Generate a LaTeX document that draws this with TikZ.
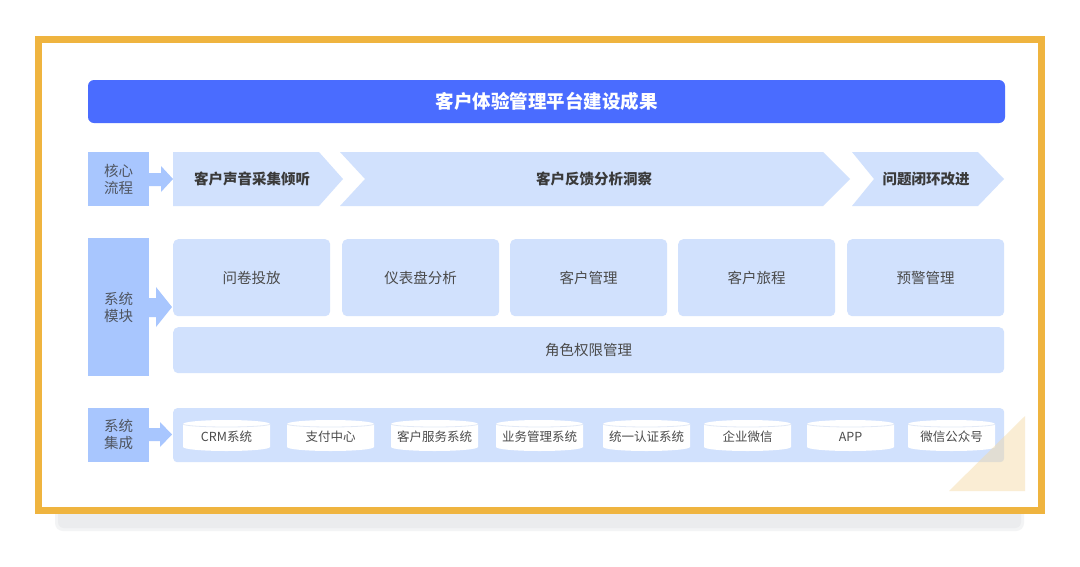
\documentclass[tikz,border=0pt]{standalone}
\usepackage{fontspec}
\setmainfont{Noto Sans CJK SC}
\definecolor{frameor}{HTML}{EFB43F}
\definecolor{titleblue}{HTML}{4A6CFF}
\definecolor{labblue}{HTML}{A8C6FE}
\definecolor{liteblue}{HTML}{D1E1FD}
\definecolor{txtdark}{HTML}{3A3A3A}
\definecolor{txtmid}{HTML}{4A4A4A}
\definecolor{txtlab}{HTML}{4F5560}
\definecolor{cylline}{HTML}{E2E9F6}
\definecolor{shadowg}{HTML}{EBECEE}
\definecolor{triorange}{HTML}{F5D9A0}
\begin{document}
\begin{tikzpicture}[x=1pt,y=-1pt,
  labelbox/.style={fill=labblue,inner sep=0pt,align=center,text=txtlab,font=\fontsize{14.5}{17}\selectfont},
  modbox/.style={fill=liteblue,rounded corners=5pt,inner sep=0pt,text=txtmid,font=\fontsize{14.5}{17}\selectfont},
  chevtext/.style={text=txtdark,font=\bfseries\fontsize{14.5}{17}\selectfont},
  cyltext/.style={text=txtmid,font=\fontsize{12.5}{15}\selectfont},
  blockarrow/.style={fill=labblue}
]
\useasboundingbox[fill=white] (0,0) rectangle (1080,566);
% shadow
\fill[shadowg!60, rounded corners=8pt] (55,480) rectangle (1024,531);
\fill[shadowg, rounded corners=6pt] (58,480) rectangle (1021,528);
% frame
\draw[line width=7pt, draw=frameor, fill=white] (38.5,39.5) rectangle (1041,510);
% title
\node[fill=titleblue, rounded corners=6pt, minimum width=917pt, minimum height=43pt, inner sep=0pt,
  text=white, font=\bfseries\fontsize{18.5}{21}\selectfont] (title) at (546.5,101.5) {客户体验管理平台建设成果};

% ---------- row 1 ----------
\node[labelbox, minimum width=61pt, minimum height=54pt] (lab1) at (118.5,179) {核心\\流程};
\fill[blockarrow] (lab1.east |- 0,173) -- (161,173) -- (161,166) -- (173,179) -- (161,192) -- (161,186) -- (lab1.east |- 0,186) -- cycle;
\fill[liteblue] (173,152) -- (319,152) -- (343,179) -- (319,206) -- (173,206) -- cycle;
\fill[liteblue] (340,152) -- (823,152) -- (850,179) -- (823,206) -- (340,206) -- (365,179) -- cycle;
\fill[liteblue] (852,152) -- (978,152) -- (1004,179) -- (978,206) -- (852,206) -- (874,179) -- cycle;
\node[chevtext] (c1) at (252,179) {客户声音采集倾听};
\node[chevtext] (c2) at (594,179) {客户反馈分析洞察};
\node[chevtext] (c3) at (926,179) {问题闭环改进};

% ---------- row 2 ----------
\node[labelbox, minimum width=61pt, minimum height=138pt] (lab2) at (118.5,307) {系统\\模块};
\fill[blockarrow] (lab2.east |- 0,298) -- (156,298) -- (156,287) -- (172,307) -- (156,327) -- (156,317) -- (lab2.east |- 0,317) -- cycle;
\foreach \x/\t/\n in {173/问卷投放/m1, 342/仪表盘分析/m2, 510/客户管理/m3, 678/客户旅程/m4, 847/预警管理/m5}{
  \node[modbox, minimum width=157pt, minimum height=77pt, anchor=north west] (\n) at (\x,239) {};
  \node[text=txtmid,font=\fontsize{14.5}{17}\selectfont] (\n t) at (\n.center) {\t};
}
\node[modbox, minimum width=831pt, minimum height=46pt, anchor=north west] (role) at (173,327) {角色权限管理};

% ---------- row 3 ----------
\node[labelbox, minimum width=61pt, minimum height=54pt] (lab3) at (118.5,435) {系统\\集成};
\fill[blockarrow] (lab3.east |- 0,428) -- (160,428) -- (160,422) -- (172,434.5) -- (160,447) -- (160,441) -- (lab3.east |- 0,441) -- cycle;
\node[fill=liteblue, rounded corners=4pt, minimum width=831pt, minimum height=54pt, inner sep=0pt, anchor=north west] (cont) at (173,408) {};
\foreach \x/\t/\n in {183/CRM系统/s1, 287/支付中心/s2, 391/客户服务系统/s3, 496/业务管理系统/s4, 603/统一认证系统/s5, 704/企业微信/s6, 807/APP/s7, 908/微信公众号/s8}{
  \fill[white] (\x,424) -- (\x,447) arc[start angle=180,end angle=0,x radius=43.5,y radius=4] -- (\x+87,424) arc[start angle=0,end angle=-180,x radius=43.5,y radius=4] -- cycle;
  \draw[cylline, line width=0.8pt] (\x,424) arc[start angle=180,end angle=0,x radius=43.5,y radius=3];
  \node[cyltext] (\n) at (\x+43.5,437) {\t};
}
% decorative triangle
\fill[triorange, fill opacity=0.45] (1025,416) -- (1025,491) -- (949,491) -- cycle;
\end{tikzpicture}
\end{document}
